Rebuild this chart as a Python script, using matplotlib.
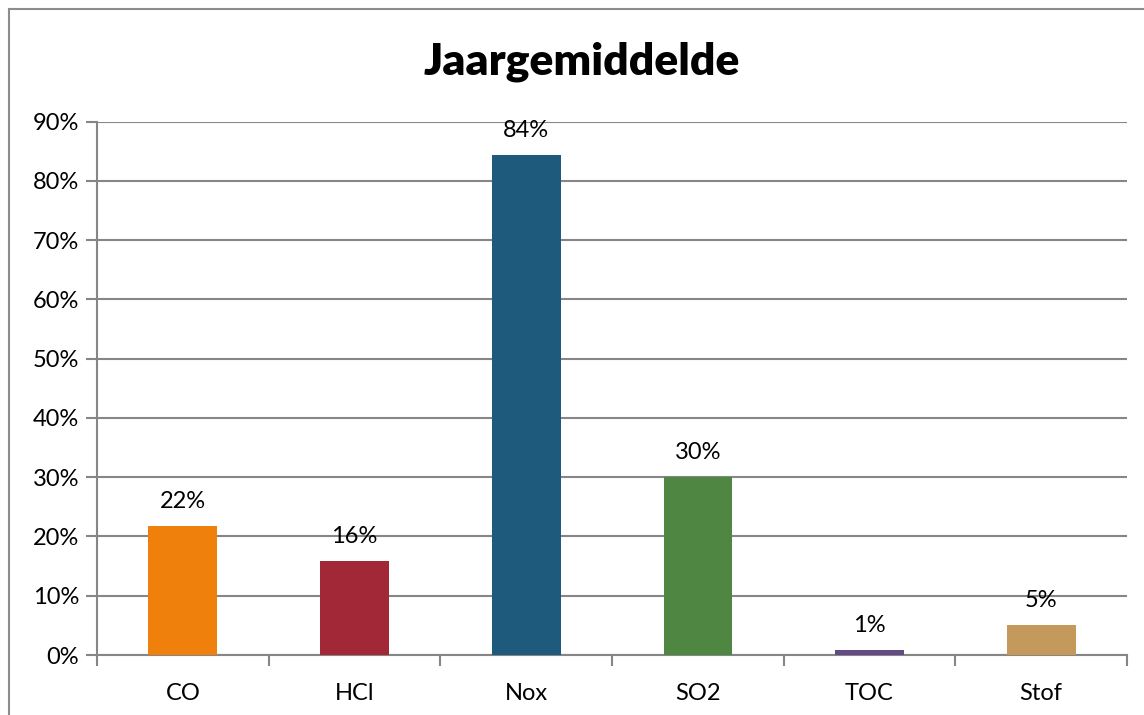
import matplotlib.pyplot as plt
import numpy as np

categories = ['CO', 'HCl', 'Nox', 'SO2', 'TOC', 'Stof']
values = [21.7, 15.9, 84.4, 30.1, 0.9, 5.0]
labels = ['22%', '16%', '84%', '30%', '1%', '5%']
colors = ['#F0800C', '#A22837', '#1E5A7C', '#4F8642', '#644A84', '#C39A5C']

plt.rcParams['font.family'] = ['Lato', 'DejaVu Sans']

fig = plt.figure(figsize=(11.44, 7.15), dpi=100)
ax = fig.add_axes([97 / 1144, 1 - 655 / 715, (1127 - 97) / 1144, (655 - 121.5) / 715])

# outer chart border (left and top visible)
fig.add_artist(plt.Line2D([9 / 1144, 9 / 1144], [0, 1 - 9 / 715], transform=fig.transFigure,
                          color='#8C8C8C', lw=1.5))
fig.add_artist(plt.Line2D([9 / 1144, 1], [1 - 9 / 715, 1 - 9 / 715], transform=fig.transFigure,
                          color='#8C8C8C', lw=1.5))

x = np.arange(len(categories))
ax.bar(x, values, width=0.4, color=colors, zorder=3)

for xi, v, lab in zip(x, values, labels):
    ax.annotate(lab, (xi, v), xytext=(0, 10), textcoords='offset points',
                ha='center', va='bottom', fontsize=17, color='black', zorder=4)

ax.set_xlim(-0.5, len(categories) - 0.5)
ax.set_ylim(0, 90)
ax.set_yticks(np.arange(0, 91, 10))
ax.set_yticklabels([f'{t}%' for t in range(0, 91, 10)], fontsize=17)
ax.yaxis.grid(True, color='#868686', lw=1.5, zorder=0)

ax.set_xticks(x)
ax.set_xticklabels(categories, fontsize=17)
ax.tick_params(axis='x', length=0, pad=20)
ax.set_xticks(np.arange(-0.5, len(categories)), minor=True)
ax.tick_params(axis='x', which='minor', length=8, width=1.5, color='#868686')
ax.tick_params(axis='y', length=8, width=1.5, color='#868686', pad=5)

for s in ['top', 'right']:
    ax.spines[s].set_visible(False)
for s in ['left', 'bottom']:
    ax.spines[s].set_color('#868686')
    ax.spines[s].set_linewidth(1.5)

fig.text(582 / 1144, 1 - 62 / 715, 'Jaargemiddelde', ha='center', va='center',
         fontsize=32, fontweight='heavy')

fig.savefig('out.png', dpi=100)
